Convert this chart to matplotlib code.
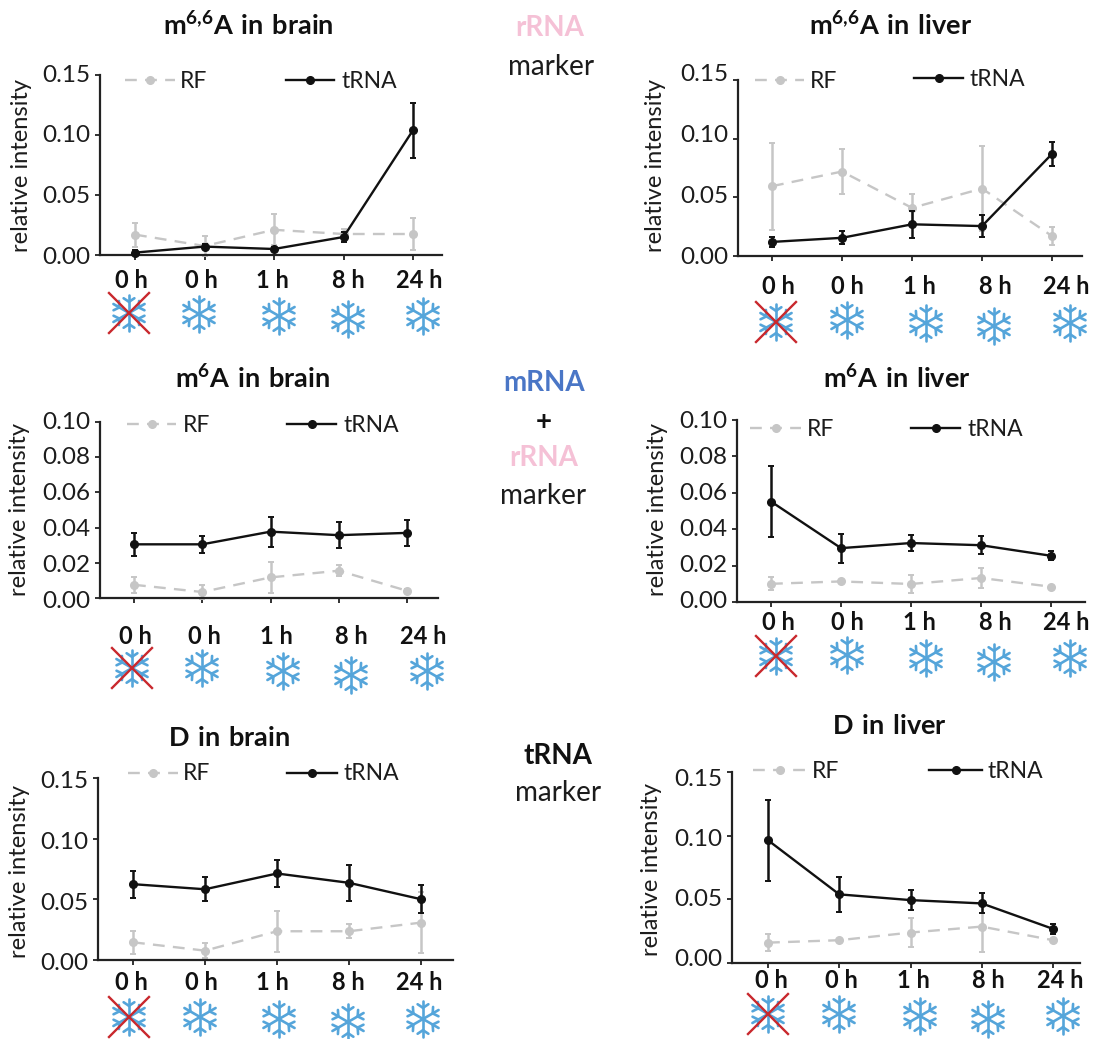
"""Six panels of relative intensity, RF against tRNA, with freezing icons."""

import matplotlib

matplotlib.use("Agg")

import matplotlib.pyplot as plt
import numpy as np
from matplotlib.transforms import ScaledTranslation

plt.rcParams["font.family"] = ["Lato", "DejaVu Sans"]
plt.rcParams["mathtext.fontset"] = "custom"
plt.rcParams["mathtext.bf"] = "Lato:bold"
plt.rcParams["mathtext.rm"] = "Lato"

time_labels = ["0 h", "0 h", "1 h", "8 h", "24 h"]

m66a_brain_trna = [0.002, 0.007, 0.005, 0.015, 0.104]
m66a_brain_trna_err = [0.002, 0.002, 0.002, 0.004, 0.023]
m66a_brain_rf = [0.017, 0.0075, 0.021, 0.0175, 0.0175]
m66a_brain_rf_err = [0.010, 0.008, 0.013, 0.004, 0.0135]

m66a_liver_trna = [0.012, 0.0155, 0.027, 0.0255, 0.087]
m66a_liver_trna_err = [0.004, 0.0055, 0.0115, 0.0095, 0.0105]
m66a_liver_rf = [0.0595, 0.072, 0.041, 0.0575, 0.017]
m66a_liver_rf_err = [0.037, 0.0195, 0.012, 0.036, 0.0075]

m6a_brain_trna = [0.0305, 0.0305, 0.0377, 0.0357, 0.037]
m6a_brain_trna_err = [0.0065, 0.005, 0.0085, 0.0075, 0.0073]
m6a_brain_rf = [0.0075, 0.0034, 0.0117, 0.0155, 0.0041]
m6a_brain_rf_err = [0.0045, 0.004, 0.009, 0.003, 0.001]

m6a_liver_trna = [0.0552, 0.0296, 0.0324, 0.0312, 0.0254]
m6a_liver_trna_err = [0.0197, 0.008, 0.0045, 0.005, 0.0025]
m6a_liver_rf = [0.01, 0.0113, 0.0099, 0.0132, 0.0084]
m6a_liver_rf_err = [0.0035, 0.001, 0.0047, 0.0055, 0.0005]

d_brain_trna = [0.0625, 0.0583, 0.0713, 0.0636, 0.0501]
d_brain_trna_err = [0.011, 0.01, 0.011, 0.015, 0.0115]
d_brain_rf = [0.0146, 0.0077, 0.0237, 0.0237, 0.0308]
d_brain_rf_err = [0.0096, 0.006, 0.017, 0.0057, 0.0253]

d_liver_trna = [0.0964, 0.0539, 0.0494, 0.0468, 0.0268]
d_liver_trna_err = [0.032, 0.014, 0.008, 0.0078, 0.004]
d_liver_rf = [0.016, 0.0179, 0.0239, 0.0286, 0.0179]
d_liver_rf_err = [0.0066, 0.001, 0.0116, 0.02, 0.001]

W, H = 1095, 1039
DPI = 100
GREY = "#c6c6c6"
BLACK = "#111111"
BLUE = "#55a5da"
RED = "#c9282d"
PINK = "#f5c1d6"
MRNA_BLUE = "#4a76c6"
TEXT = "#1c1c1c"
TICK_LEN = 5

# layout in reference pixels, one entry per panel
panels = [
    dict(title=r"$\mathbf{m^{6{,}6}A\ in\ brain}$", title_xy=(248, 26),
         trna=m66a_brain_trna, trna_err=m66a_brain_trna_err,
         rf=m66a_brain_rf, rf_err=m66a_brain_rf_err,
         ymax=0.15, ystep=0.05, spine=100, right=442, y0=255, ytop=75,
         ticks=(135, 413), ylab_span=(73, 255), ylabel_xy=(22, 166),
         time_x=[131, 201, 272, 348, 419], time_y=280,
         flakes=[(129, 313), (199, 314), (279, 316), (348, 319), (423, 316)],
         rf_leg=(125, 175, 80, 180), trna_leg=(286, 334, 80, 342)),
    dict(title=r"$\mathbf{m^{6{,}6}A\ in\ liver}$", title_xy=(891, 26),
         trna=m66a_liver_trna, trna_err=m66a_liver_trna_err,
         rf=m66a_liver_rf, rf_err=m66a_liver_rf_err,
         ymax=0.15, ystep=0.05, spine=738, right=1082, y0=256, ytop=80,
         ticks=(772, 1052), ylab_span=(73, 255), ylabel_xy=(655, 166),
         time_x=[778, 847, 919, 995, 1066], time_y=287,
         flakes=[(776, 322), (847, 320), (926, 323), (994, 326), (1070, 323)],
         rf_leg=(755, 804, 80, 810), trna_leg=(914, 963, 78, 970)),
    dict(title=r"$\mathbf{m^{6}A\ in\ brain}$", title_xy=(253, 379),
         trna=m6a_brain_trna, trna_err=m6a_brain_trna_err,
         rf=m6a_brain_rf, rf_err=m6a_brain_rf_err,
         ymax=0.10, ystep=0.02, spine=100, right=438, y0=598, ytop=422,
         ticks=(134, 407), ylab_span=(420, 599), ylabel_xy=(20, 509),
         time_x=[135, 204, 276, 351, 423], time_y=636,
         flakes=[(132, 668), (202, 668), (283, 671), (351, 675), (427, 671)],
         rf_leg=(127, 176, 424, 183), trna_leg=(287, 336, 424, 343)),
    dict(title=r"$\mathbf{m^{6}A\ in\ liver}$", title_xy=(897, 379),
         trna=m6a_liver_trna, trna_err=m6a_liver_trna_err,
         rf=m6a_liver_rf, rf_err=m6a_liver_rf_err,
         ymax=0.10, ystep=0.02, spine=737, right=1085, y0=602, ytop=420,
         ticks=(771, 1051), ylab_span=(420, 600), ylabel_xy=(657, 509),
         time_x=[778, 847, 919, 995, 1066], time_y=623,
         flakes=[(776, 656), (847, 655), (926, 658), (994, 662), (1070, 658)],
         rf_leg=(750, 801, 428, 807), trna_leg=(911, 960, 428, 967)),
    dict(title=r"$\mathbf{D\ in\ brain}$", title_xy=(229, 738),
         trna=d_brain_trna, trna_err=d_brain_trna_err,
         rf=d_brain_rf, rf_err=d_brain_rf_err,
         ymax=0.15, ystep=0.05, spine=98, right=453, y0=960, ytop=778,
         ticks=(133, 421), ylab_span=(780, 962), ylabel_xy=(20, 872),
         time_x=[131, 201, 272, 348, 419], time_y=983,
         flakes=[(129, 1017), (200, 1017), (279, 1019), (348, 1022), (423, 1019)],
         rf_leg=(128, 178, 773, 183), trna_leg=(287, 337, 773, 343)),
    dict(title=r"$\mathbf{D\ in\ liver}$", title_xy=(889, 726),
         trna=d_liver_trna, trna_err=d_liver_trna_err,
         rf=d_liver_rf, rf_err=d_liver_rf_err,
         ymax=0.15, ystep=0.05, spine=732, right=1080, y0=963, ytop=772,
         ticks=(768, 1053), ylab_span=(777, 958), ylabel_xy=(652, 869),
         time_x=[771, 841, 913, 988, 1060], time_y=980,
         flakes=[(768, 1014), (839, 1014), (920, 1016), (988, 1019), (1063, 1016)],
         rf_leg=(753, 807, 770, 812), trna_leg=(929, 982, 770, 988)),
]

side_notes = [
    ("rRNA", PINK, "bold", 550, 28),
    ("marker", TEXT, "normal", 551, 67),
    ("mRNA", MRNA_BLUE, "bold", 544, 383),
    ("+", BLACK, "bold", 544, 422),
    ("rRNA", PINK, "bold", 544, 458),
    ("marker", TEXT, "normal", 543, 496),
    ("tRNA", BLACK, "bold", 558, 756),
    ("marker", TEXT, "normal", 558, 793),
]


def draw_flake(ax, cx, cy, r=18):
    """Draw one snowflake icon on the pixel overlay."""
    for k in range(6):
        a = np.pi / 2 + k * np.pi / 3
        ax.plot([cx, cx + r * np.cos(a)], [cy, cy + r * np.sin(a)],
                color=BLUE, lw=1.9, solid_capstyle="round")
        bx, by = cx + 0.62 * r * np.cos(a), cy + 0.62 * r * np.sin(a)
        for s in (-1, 1):
            b = a + s * np.pi / 3.2
            ax.plot([bx, bx + 0.36 * r * np.cos(b)], [by, by + 0.36 * r * np.sin(b)],
                    color=BLUE, lw=1.9, solid_capstyle="round")


def draw_panel(fig, ov, p):
    """Draw one panel with its legend, labels and icons."""
    step = (p["ticks"][1] - p["ticks"][0]) / 4
    ax = fig.add_axes([
        p["spine"] / W,
        1 - p["y0"] / H,
        (p["right"] - p["spine"]) / W,
        (p["y0"] - p["ytop"]) / H,
    ])
    ax.patch.set_alpha(0)
    x = np.arange(len(time_labels))
    for vals, errs, color, ls, z in [
        (p["rf"], p["rf_err"], GREY, (0, (5, 3.5)), 2),
        (p["trna"], p["trna_err"], BLACK, "-", 3),
    ]:
        ax.errorbar(x, vals, yerr=errs, color=color, ls=ls, lw=1.7, marker="o", ms=5.5,
                    elinewidth=1.8, capsize=2.4, capthick=1.4, zorder=z, clip_on=False)

    ax.set_xlim((p["spine"] - p["ticks"][0]) / step, (p["right"] - p["ticks"][0]) / step)
    ax.set_ylim(0, p["ymax"])
    for side in ("top", "right"):
        ax.spines[side].set_visible(False)
    for side in ("left", "bottom"):
        ax.spines[side].set_linewidth(1.6)
        ax.spines[side].set_color("#222222")

    ax.tick_params(axis="both", length=TICK_LEN * 72 / DPI, width=1.3, color="#222222")
    ax.tick_params(axis="y", labelsize=17.5, pad=3.2, labelcolor=TEXT)
    pad_x = (p["time_y"] - p["y0"] - TICK_LEN) * 72 / DPI
    ax.tick_params(axis="x", labelsize=17, pad=pad_x, labelcolor=BLACK)

    ax.set_xticks(x)
    labels = ax.set_xticklabels(time_labels, fontweight="bold", va="center")
    for lab, k, tx in zip(labels, x, p["time_x"]):
        dx = (tx - (p["ticks"][0] + k * step)) / DPI
        lab.set_transform(lab.get_transform() + ScaledTranslation(dx, 0, fig.dpi_scale_trans))

    yticks = np.arange(0, p["ymax"] + 1e-9, p["ystep"])
    ax.set_yticks(yticks)
    ylabs = ax.set_yticklabels([f"{v:.2f}" for v in yticks])
    top_lab, bot_lab = p["ylab_span"]
    for lab, v in zip(ylabs, yticks):
        tick_y = p["y0"] - v / p["ymax"] * (p["y0"] - p["ytop"])
        want_y = bot_lab - v / p["ymax"] * (bot_lab - top_lab)
        dy = (tick_y - want_y) / DPI
        lab.set_transform(lab.get_transform() + ScaledTranslation(0, dy, fig.dpi_scale_trans))

    # title, axis label and hand placed legend sit on the overlay
    ov.text(*p["title_xy"], p["title"], fontsize=19.5, ha="center", va="center", color=BLACK)
    ov.text(*p["ylabel_xy"], "relative intensity", fontsize=17, rotation=90,
            ha="center", va="center", color=TEXT)

    for name, leg, color, ls in [
        ("RF", p["rf_leg"], GREY, (0, (5, 3.5))),
        ("tRNA", p["trna_leg"], BLACK, "-"),
    ]:
        x0, x1, y, tx = leg
        ov.plot([x0, x1], [y, y], color=color, ls=ls, lw=1.7)
        ov.plot([(x0 + x1) / 2], [y], color=color, marker="o", ms=5.5)
        ov.text(tx, y + 1, name, fontsize=16.5, ha="left", va="center", color=TEXT)

    for cx, cy in p["flakes"]:
        draw_flake(ov, cx, cy)
    cx, cy = p["flakes"][0]
    ov.plot([cx - 20, cx + 20], [cy - 20, cy + 20], color=RED, lw=1.7, zorder=5)
    ov.plot([cx - 20, cx + 20], [cy + 20, cy - 20], color=RED, lw=1.7, zorder=5)


def main():
    fig = plt.figure(figsize=(W / DPI, H / DPI), dpi=DPI, facecolor="white")
    ov = fig.add_axes([0, 0, 1, 1])
    ov.set_xlim(0, W)
    ov.set_ylim(H, 0)
    ov.axis("off")

    for p in panels:
        draw_panel(fig, ov, p)

    for word, color, weight, tx, ty in side_notes:
        ov.text(tx, ty, word, color=color, fontweight=weight, fontsize=20,
                ha="center", va="center")

    fig.savefig("out.png", dpi=DPI)
    plt.close(fig)


main()
